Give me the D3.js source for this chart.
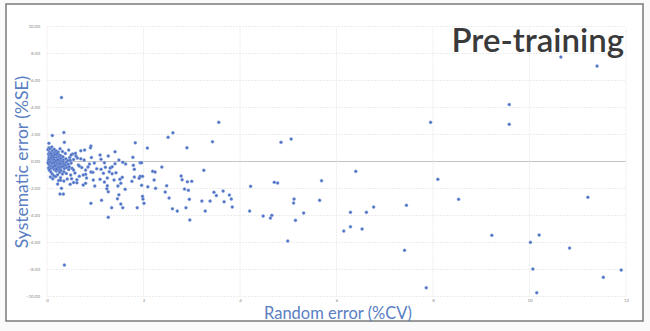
<!DOCTYPE html>
<html>
<head>
<meta charset="utf-8">
<script src="https://cdn.jsdelivr.net/npm/d3@7"></script>
<style>
  body { margin: 0; background: #fafafa; }
  svg { display: block; }
</style>
</head>
<body>
<div id="chart"></div>
<script>
// tick values
var xTicks = [0, 2, 4, 6, 8, 10, 12]
var yTicks = [-10, -8, -6, -4, -2, 0, 2, 4, 6, 8, 10]

// dense cluster near the origin [%CV, %SE]
var clusterPoints = [
    [0.03,0.55],[0.05,0.42],[0.04,0.30],[0.06,0.18],[0.03,0.05],[0.05,-0.08],[0.04,-0.22],[0.06,-0.35],[0.05,0.70],[0.07,0.62],
    [0.08,0.48],[0.09,0.35],[0.08,0.22],[0.10,0.10],[0.09,-0.02],[0.08,-0.15],[0.10,-0.28],[0.09,-0.42],[0.07,-0.55],[0.11,0.80],
    [0.12,0.58],[0.13,0.44],[0.12,0.31],[0.14,0.19],[0.13,0.06],[0.12,-0.06],[0.14,-0.19],[0.13,-0.33],[0.12,-0.47],[0.15,-0.60],
    [0.16,0.66],[0.17,0.50],[0.16,0.37],[0.18,0.25],[0.17,0.12],[0.16,0.00],[0.18,-0.12],[0.17,-0.25],[0.16,-0.38],[0.18,-0.52],
    [0.19,-0.70],[0.20,0.40],[0.21,0.28],[0.20,0.15],[0.22,0.03],[0.21,-0.09],[0.20,-0.21],[0.22,-0.34],[0.21,-0.46],[0.23,-0.62],
    [0.24,0.52],[0.25,0.33],[0.24,0.20],[0.26,0.08],[0.25,-0.04],[0.24,-0.17],[0.26,-0.30],[0.25,-0.43],[0.27,-0.57],[0.26,-0.80],
    [0.28,0.45],[0.29,0.22],[0.30,0.05],[0.29,-0.10],[0.31,-0.24],[0.30,-0.40],[0.29,-0.66],[0.32,-0.92],[0.33,0.35],[0.34,0.12],
    [0.33,-0.02],[0.35,-0.18],[0.34,-0.35],[0.36,-0.52],[0.35,-0.75],[0.38,0.60],[0.39,0.20],[0.40,-0.06],[0.38,-0.28],[0.41,-0.45],
    [0.40,-0.88],[0.43,0.08],[0.44,-0.20],[0.45,-0.60],[0.47,0.30],[0.46,-0.38],[0.50,-0.12],[0.52,-0.50],[0.49,-1.00],[0.55,0.15],
    [0.02,0.88],[0.04,1.02],[0.06,0.95],[0.10,1.08],[0.03,-0.48],[0.05,-0.65],[0.08,-0.78],[0.11,-0.92],[0.14,-1.05],[0.07,-1.15],
    [0.12,-1.28],[0.18,-1.12],[0.22,-0.98],[0.28,-1.20],[0.24,-1.40],[0.15,0.90],[0.19,0.78],[0.23,0.70],[0.32,0.75],[0.27,0.95],
    [0.07,0.10],[0.11,0.20],[0.15,0.12],[0.09,0.28],[0.14,0.32],[0.06,-0.02],[0.11,-0.12],[0.15,-0.08],[0.19,0.05],[0.13,-0.40],
    [0.10,0.45],[0.17,-0.30],[0.20,-0.55],[0.23,0.12],[0.27,-0.15],[0.08,0.60],[0.16,0.52],[0.21,0.60],[0.04,0.15],[0.02,-0.10],
    [0.60,0.40],[0.65,-0.25],[0.72,-0.45],[0.58,-0.85],[0.70,0.20],[0.85,-0.40],[0.92,0.30],[0.62,-1.35],[0.55,-1.55],[0.42,-1.30],
    [0.35,-1.45],[0.45,0.85],[0.53,0.55],[0.80,-0.95],[0.95,-0.80]
]

// points between roughly 0.3 and 1 %CV
var nearPoints = [
    [0.36,1.42],[0.04,1.35],[0.91,1.15],[0.90,1.02],[0.78,0.85],[0.70,0.80],[0.59,0.61],[0.50,0.48],[0.63,0.26],[0.48,0.09],
    [0.77,0.11],[0.88,-0.19],[0.98,-0.11],[0.67,-0.33],[0.80,-0.63],[0.55,-0.63],[0.91,-0.78],[1.03,-0.53],[0.67,-1.10],[0.82,-1.22],
    [0.51,-1.27],[0.96,-1.37],[0.62,-1.57],[0.75,-1.00],[0.28,-1.39],[0.22,-1.67],[0.30,-1.99],[0.48,-1.69],[0.75,-1.74],[0.80,-1.61],
    [0.99,-1.81],[0.27,-2.41],[0.34,-2.41],[0.91,-3.10],[0.11,1.93],[0.35,2.15],[0.30,4.74],[0.36,-7.67]
]

// points between 1 and 3.5 %CV
var midPoints = [
    [2.61,2.13],[2.51,1.79],[1.83,1.39],[2.08,1.00],[2.90,1.02],[1.27,0.41],[1.41,0.73],[1.78,0.31],[1.10,0.48],[1.12,0.16],
    [1.19,-0.09],[1.49,0.11],[1.57,-0.06],[1.63,-0.19],[1.41,-0.16],[1.93,-0.09],[1.96,-0.09],[1.79,-0.28],[2.38,-0.41],[1.35,-0.39],
    [1.31,-0.48],[1.21,-0.43],[1.12,-0.58],[1.81,-0.58],[1.29,-0.76],[1.43,-0.83],[1.17,-0.87],[1.35,-0.90],[2.19,-0.73],[2.24,-0.78],
    [3.25,-0.65],[2.78,-1.07],[1.93,-1.10],[1.98,-1.10],[1.91,-1.24],[1.81,-1.15],[1.56,-1.17],[1.25,-1.22],[1.51,-1.32],[1.39,-1.37],
    [1.10,-1.32],[1.19,-1.52],[1.76,-1.47],[2.22,-1.37],[2.80,-1.35],[2.91,-1.50],[3.00,-1.47],[1.53,-1.61],[1.47,-1.81],[1.96,-1.76],
    [2.09,-1.87],[2.48,-1.79],[1.25,-1.79],[2.25,-1.99],[1.62,-2.06],[2.85,-2.04],[2.93,-2.13],[1.27,-2.24],[2.45,-2.26],[1.49,-2.46],
    [1.98,-2.58],[1.99,-2.78],[2.53,-2.70],[2.95,-2.80],[1.13,-2.87],[1.46,-2.76],[2.01,-3.10],[1.53,-3.15],[1.57,-3.42],[3.21,-2.93],
    [1.34,-3.42],[1.87,-3.42],[2.60,-3.50],[2.70,-3.67],[2.88,-3.42],[3.28,-3.67],[1.27,-4.13],[2.96,-4.33],[1.24,-2.02]
]

// sparse points beyond 3.3 %CV
var farPoints = [
    [3.56,2.90],[3.43,1.47],[4.85,1.42],[5.06,1.67],[5.69,-1.42],[4.71,-1.54],[4.78,-1.59],[4.22,-1.84],[3.46,-2.27],[3.51,-2.52],
    [3.65,-2.19],[3.78,-2.48],[3.82,-2.78],[3.38,-2.93],[3.67,-2.98],[3.84,-3.37],[5.12,-2.78],[5.11,-3.07],[5.65,-2.87],[4.20,-3.67],
    [4.48,-4.04],[4.66,-3.99],[4.63,-4.19],[5.32,-3.81],[5.15,-4.36],[4.99,-5.89],
    [7.95,2.90],[6.40,-0.73],[8.10,-1.32],[8.53,-2.80],[6.29,-3.76],[6.62,-3.76],[6.77,-3.37],[7.45,-3.24],[6.15,-5.15],[6.29,-4.83],
    [6.53,-5.00],[7.41,-6.58],[7.86,-9.35],
    [10.65,7.74],[11.40,7.07],[9.58,4.22],[9.58,2.76],[11.21,-2.65],[9.22,-5.47],[10.20,-5.44],[10.02,-5.99],[10.83,-6.41],[10.07,-7.96],
    [11.90,-8.04],[11.53,-8.58],[10.15,-9.72]
]

var allPoints = clusterPoints.concat(nearPoints, midPoints, farPoints)

var W = 650, H = 331

var svg = d3.select("#chart").append("svg")
    .attr("width", W)
    .attr("height", H)

// slide frame
svg.append("rect")
    .attr("x", 6).attr("y", 4)
    .attr("width", 637).attr("height", 317)
    .attr("fill", "#ffffff")
    .attr("stroke", "#7a7a7a")
    .attr("stroke-width", 1.5)

var x = d3.scaleLinear().domain([0, 12]).range([47, 626])
var y = d3.scaleLinear().domain([-10, 10]).range([296.5, 26.5])

// grid
svg.append("g").selectAll("line.h")
    .data(yTicks)
    .enter().append("line")
    .attr("x1", x(0)).attr("x2", x(12))
    .attr("y1", function (d) { return y(d) })
    .attr("y2", function (d) { return y(d) })
    .attr("stroke", function (d) { return d === 0 ? "#c4c4c4" : "#ececec" })
    .attr("stroke-width", 1)
    .attr("stroke-dasharray", function (d) { return d === 0 ? null : "2,1" })

svg.append("g").selectAll("line.v")
    .data(xTicks)
    .enter().append("line")
    .attr("y1", y(-10)).attr("y2", y(10))
    .attr("x1", function (d) { return x(d) })
    .attr("x2", function (d) { return x(d) })
    .attr("stroke", "#ececec")
    .attr("stroke-width", 1)
    .attr("stroke-dasharray", "2,1")

// axes (tiny labels only)
var yAxis = svg.append("g")
    .attr("transform", "translate(" + (x(0) - 4) + ",0)")
    .call(d3.axisLeft(y).tickValues(yTicks).tickSize(0).tickFormat(d3.format(".2f")))
yAxis.select(".domain").remove()
yAxis.selectAll("text")
    .attr("font-family", "Lato, sans-serif")
    .attr("font-size", 4.5)
    .attr("fill", "#8a8a8a")

var xAxis = svg.append("g")
    .attr("transform", "translate(0," + (y(-10) + 1) + ")")
    .call(d3.axisBottom(x).tickValues(xTicks).tickSize(0).tickPadding(1))
xAxis.select(".domain").remove()
xAxis.selectAll("text")
    .attr("font-family", "Lato, sans-serif")
    .attr("font-size", 4.5)
    .attr("fill", "#8a8a8a")

// points
svg.append("g").selectAll("circle")
    .data(allPoints)
    .enter().append("circle")
    .attr("cx", function (d) { return x(d[0]) })
    .attr("cy", function (d) { return y(d[1]) })
    .attr("r", 1.5)
    .attr("fill", "#4a6fc4")
    .attr("stroke", "#8fa6dc")
    .attr("stroke-width", 0.5)

// title
svg.append("text")
    .attr("x", 624).attr("y", 52)
    .attr("text-anchor", "end")
    .attr("font-family", "Lato, sans-serif")
    .attr("font-weight", 600)
    .attr("font-size", 33)
    .attr("fill", "#3a3a3a")
    .text("Pre-training")

// axis titles
svg.append("text")
    .attr("transform", "translate(28,162) rotate(-90)")
    .attr("text-anchor", "middle")
    .attr("font-family", "Lato, sans-serif")
    .attr("font-size", 17.5)
    .attr("fill", "#5a7ec2")
    .text("Systematic error (%SE)")

svg.append("text")
    .attr("x", 338).attr("y", 319)
    .attr("text-anchor", "middle")
    .attr("font-family", "Lato, sans-serif")
    .attr("font-size", 16.5)
    .attr("fill", "#5a7ec2")
    .text("Random error (%CV)")
</script>
</body>
</html>
